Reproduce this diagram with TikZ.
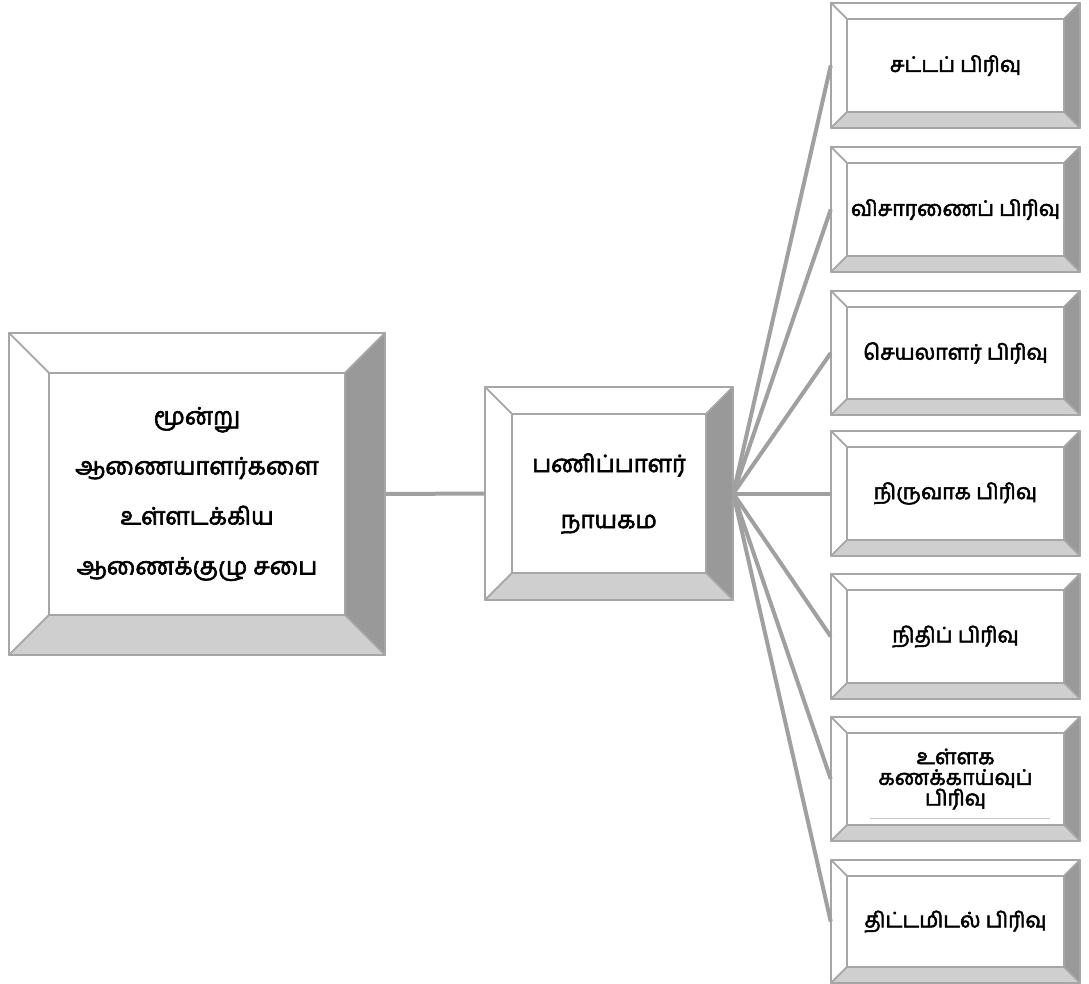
\documentclass[tikz,border=0pt]{standalone}
\usepackage{fontspec}
\newfontfamily\ta[Script=Tamil,FakeBold=2.5]{Hind Madurai}
\definecolor{edgec}{HTML}{A6A6A6}
\definecolor{darkbev}{HTML}{999999}
\definecolor{lightbev}{HTML}{CFCFCF}
\definecolor{linkc}{HTML}{A0A0A0}
\tikzset{
  bevedge/.style={draw=edgec,line width=1.1pt,line join=round},
  link/.style={draw=linkc,line width=3pt},
  bigtext/.style={font=\ta\fontsize{18}{37.5}\selectfont},
  midtext/.style={font=\ta\fontsize{18}{42}\selectfont},
  smalltext/.style={font=\ta\fontsize{16}{15.5}\selectfont},
}
% #1 name, #2 x1, #3 y1, #4 x2, #5 y2, #6 bevel, #7 style, #8 text
\newcommand\bevbox[8]{%
  \fill[white,bevedge] (#2,#3) -- (#4,#3) -- ({#4-#6},{#3+#6}) -- ({#2+#6},{#3+#6}) -- cycle;
  \fill[white,bevedge] (#2,#3) -- ({#2+#6},{#3+#6}) -- ({#2+#6},{#5-#6}) -- (#2,#5) -- cycle;
  \fill[darkbev,bevedge] (#4,#3) -- (#4,#5) -- ({#4-#6},{#5-#6}) -- ({#4-#6},{#3+#6}) -- cycle;
  \fill[lightbev,bevedge] (#2,#5) -- (#4,#5) -- ({#4-#6},{#5-#6}) -- ({#2+#6},{#5-#6}) -- cycle;
  \fill[white,bevedge] ({#2+#6},{#3+#6}) rectangle ({#4-#6},{#5-#6});
  \draw[bevedge] (#2,#3) rectangle (#4,#5);
  \node[#7,align=center,inner sep=0pt,minimum width={(#4-#2)*0.75pt},minimum height={(#5-#3)*0.75pt}] (#1) at ({(#2+#4)/2},{(#3+#5)/2}) {#8};
}
\begin{document}
\begin{tikzpicture}[x=0.75pt,y=-0.75pt]
\useasboundingbox (0,0) rectangle (1089,984);
\bevbox{board}{9}{333}{385}{655}{40}{bigtext}{மூன்று\\ஆணையாளர்களை\\உள்ளடக்கிய\\ஆணைக்குழு சபை}
\bevbox{dg}{485}{387}{733}{600}{27}{midtext}{பணிப்பாளர்\\நாயகம}
\bevbox{r1}{831}{3}{1080}{128}{16}{smalltext}{சட்டப் பிரிவு}
\bevbox{r2}{831}{147}{1080}{272}{16}{smalltext}{விசாரணைப் பிரிவு}
\bevbox{r3}{831}{291}{1080}{415}{16}{smalltext}{செயலாளர் பிரிவு}
\bevbox{r4}{831}{431}{1080}{556}{16}{smalltext}{நிருவாக பிரிவு}
\bevbox{r5}{831}{574}{1080}{699}{16}{smalltext}{நிதிப் பிரிவு}
\bevbox{r6}{831}{717}{1080}{841}{16}{smalltext}{உள்ளக\\கணக்காய்வுப்\\பிரிவு}
\bevbox{r7}{831}{860}{1080}{983}{16}{smalltext}{திட்டமிடல் பிரிவு}
\draw[draw=edgec!60,line width=0.5pt] (870,818) -- (1050,818);
\draw[link] (board.east) -- (dg.west);
\foreach \r in {r1,r2,r3,r4,r5,r6,r7}{
  \draw[link] (dg.east) -- (\r.west);
}
\end{tikzpicture}
\end{document}
